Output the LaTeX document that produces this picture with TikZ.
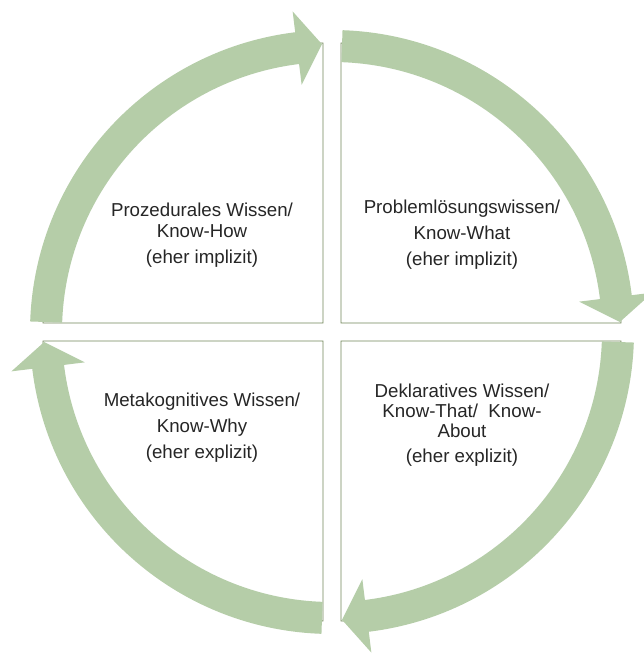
\documentclass[tikz,border=0pt]{standalone}
\usepackage{fontspec}
\setmainfont{Liberation Sans}
\definecolor{arrowgreen}{RGB}{181,205,168}
\definecolor{edgegreen}{RGB}{112,134,88}
\definecolor{textgray}{RGB}{38,38,38}
\usepackage{tikz}

\begin{document}
\begin{tikzpicture}[x=0.025cm, y=0.025cm,
	quadrant/.style={draw=edgegreen, line width=0.6pt, fill=white},
	cyclearrow/.style={fill=arrowgreen},
	lbl/.style={align=center, text=textgray, font=\fontsize{13.3}{14.5}\selectfont}]
	\useasboundingbox (-332,-321) rectangle (312,332);
	\foreach \r in {0,90,180,270}{
		\begin{scope}[rotate=-\r]
			\draw[quadrant] (-9,9) -- (-289,9) arc[start angle=180, end angle=90, radius=280] -- cycle;
		\end{scope}
	}
	\foreach \r in {0,90,180,270}{
		\begin{scope}[rotate=-\r]
			\fill[cyclearrow] (178:302) arc[start angle=178, end angle=97, radius=302]
				-- (97:323) -- (92:288) -- (97:249) -- (97:270)
				arc[start angle=97, end angle=178, radius=270] -- cycle;
		\end{scope}
	}
	\node[lbl] (prozedural) at (-130,97) {Prozedurales Wissen/\\Know-How\\[4pt](eher implizit)};
	\node[lbl] (problem) at (130,97) {Problemlösungswissen/\\[4pt]Know-What\\[4pt](eher implizit)};
	\node[lbl] (meta) at (-130,-96) {Metakognitives Wissen/\\[4pt]Know-Why\\[4pt](eher explizit)};
	\node[lbl] (deklarativ) at (130,-93) {Deklaratives Wissen/\\Know-That/\ \ Know-\\About\\[3pt](eher explizit)};
\end{tikzpicture}
\end{document}
